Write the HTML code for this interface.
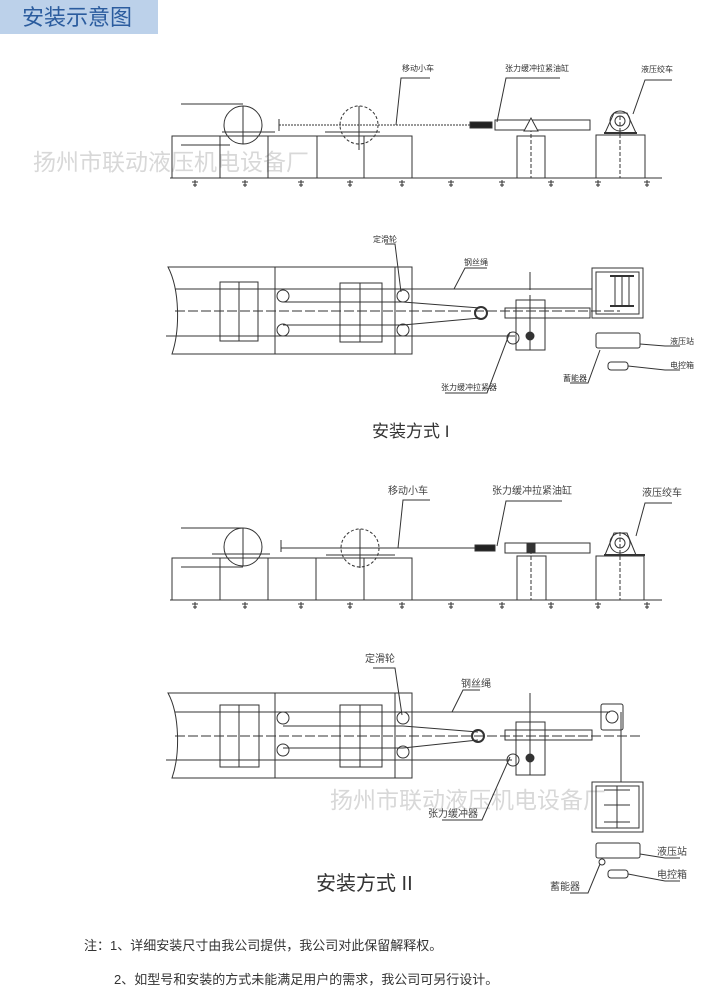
<!DOCTYPE html>
<html><head><meta charset="utf-8"><style>
body{margin:0;background:#fff;width:701px;height:986px;overflow:hidden;position:relative;font-family:"Liberation Sans","Noto Sans CJK SC",sans-serif}
svg{position:absolute;left:0;top:0}
</style></head><body>
<svg width="701" height="986" viewBox="0 0 701 986" xmlns="http://www.w3.org/2000/svg" font-family="Liberation Sans, Noto Sans CJK SC, sans-serif">
<rect x="0" y="0" width="158" height="34" fill="#bcd1ea"/>
<text x="22" y="25" font-size="22" fill="#2b5c9e">安装示意图</text>

<g fill="#d8d8d8" font-size="23">
<text x="33" y="170">扬州市联动液压机电设备厂</text>
<text x="330" y="808">扬州市联动液压机电设备厂</text>
</g>

<g stroke="#333" stroke-width="1" fill="none">
<!-- ===== Diagram 1 side view ===== -->
<line x1="170" y1="178" x2="662" y2="178"/>
<rect x="172" y="136" width="240" height="42"/>
<line x1="220" y1="136" x2="220" y2="178"/><line x1="268" y1="136" x2="268" y2="178"/><line x1="317" y1="136" x2="317" y2="178"/><line x1="364" y1="136" x2="364" y2="178"/>
<line x1="181" y1="104" x2="243" y2="104"/><line x1="181" y1="145" x2="230" y2="145"/>
<circle cx="243" cy="125" r="19"/><line x1="243" y1="106" x2="243" y2="144"/><line x1="222" y1="132" x2="275" y2="132"/>
<circle cx="359" cy="125" r="19" stroke-dasharray="3 2"/><line x1="359" y1="106" x2="359" y2="150"/><line x1="325" y1="132" x2="380" y2="132"/>
<line x1="279" y1="119" x2="279" y2="131"/>
<line x1="279" y1="125" x2="470" y2="125" stroke-dasharray="2 1"/>
<rect x="470" y="122" width="22" height="6" fill="#222"/>
<rect x="495" y="120" width="95" height="10"/>
<rect x="517" y="136" width="28" height="42"/><line x1="531" y1="128" x2="531" y2="178" stroke-dasharray="4 2"/>
<path d="M524 131 L531 118 L538 131 Z" fill="#fff"/>
<rect x="596" y="135" width="49" height="43"/><line x1="620" y1="116" x2="620" y2="178" stroke-dasharray="4 2"/>
<circle cx="620" cy="121" r="10"/><circle cx="620" cy="121" r="5"/>
<path d="M605 133 L614 113 L627 113 L636 133 Z"/><line x1="604" y1="133" x2="637" y2="133" stroke-width="2"/>
<!-- leaders -->
<polyline points="396,125 401,78 430,78"/><polyline points="497,122 506,78 560,78"/><polyline points="633,114 645,80 672,80"/>

<!-- ===== Diagram 2 plan view ===== -->
<path d="M168 267 L412 267 L412 354 L172 354 C180 330 180 290 168 267 Z"/>
<line x1="275" y1="267" x2="275" y2="354"/><line x1="395" y1="267" x2="395" y2="354"/>
<rect x="220" y="282" width="38" height="59"/><line x1="239" y1="282" x2="239" y2="341"/>
<rect x="340" y="283" width="42" height="59"/><line x1="360" y1="283" x2="360" y2="342"/>
<line x1="175" y1="289" x2="592" y2="289"/>
<line x1="175" y1="311" x2="620" y2="311" stroke-dasharray="10 3"/>
<line x1="166" y1="336" x2="515" y2="336"/>
<line x1="283" y1="302" x2="403" y2="302"/><line x1="283" y1="325" x2="403" y2="325"/>
<line x1="403" y1="302" x2="480" y2="308"/><line x1="403" y1="325" x2="480" y2="318"/>
<circle cx="283" cy="296" r="6"/><circle cx="283" cy="330" r="6"/>
<circle cx="403" cy="296" r="6"/><circle cx="403" cy="330" r="6"/>
<circle cx="481" cy="313" r="6" stroke-width="2"/>
<rect x="516" y="300" width="29" height="50"/>
<rect x="505" y="308" width="85" height="10"/>
<line x1="530" y1="295" x2="530" y2="350"/>
<circle cx="513" cy="338" r="6"/>
<circle cx="530" cy="336" r="4" fill="#333"/>
<rect x="592" y="268" width="51" height="50"/><rect x="596" y="272" width="43" height="42"/>
<line x1="610" y1="276" x2="634" y2="276" stroke-width="2"/><line x1="610" y1="306" x2="634" y2="306" stroke-width="2"/>
<line x1="615" y1="276" x2="615" y2="306"/><line x1="622" y1="276" x2="622" y2="306"/><line x1="629" y1="276" x2="629" y2="306"/>
<rect x="596" y="333" width="44" height="15" rx="2"/>
<rect x="608" y="362" width="20" height="8" rx="3"/>
<line x1="530" y1="272" x2="530" y2="290"/>
<!-- leaders -->
<polyline points="385,244 395,244 401,292"/>
<polyline points="454,289 465,268 487,268"/>
<polyline points="510,332 487,393 445,393"/>
<polyline points="600,350 588,383 570,383"/>
<polyline points="640,344 665,346 680,346"/>
<polyline points="628,366 665,370 680,370"/>

<!-- ===== Diagram 3 side view ===== -->
<line x1="170" y1="600" x2="662" y2="600"/>
<rect x="172" y="558" width="240" height="42"/>
<line x1="220" y1="558" x2="220" y2="600"/><line x1="268" y1="558" x2="268" y2="600"/><line x1="316" y1="558" x2="316" y2="600"/><line x1="364" y1="558" x2="364" y2="600"/>
<line x1="181" y1="528" x2="243" y2="528"/><line x1="181" y1="567" x2="243" y2="567"/>
<circle cx="243" cy="547" r="19"/><line x1="243" y1="528" x2="243" y2="566"/><line x1="212" y1="554" x2="270" y2="554"/>
<circle cx="360" cy="548" r="19" stroke-dasharray="3 2"/><line x1="360" y1="529" x2="360" y2="568"/><line x1="326" y1="555" x2="395" y2="555"/>
<line x1="281" y1="540" x2="281" y2="552"/>
<line x1="281" y1="548" x2="475" y2="548"/>
<rect x="475" y="545" width="20" height="6" fill="#222"/>
<rect x="505" y="543" width="85" height="10"/>
<rect x="517" y="556" width="29" height="44"/><line x1="531" y1="550" x2="531" y2="600" stroke-dasharray="4 2"/>
<rect x="527" y="543" width="8" height="10" fill="#333"/>
<rect x="596" y="556" width="48" height="44"/><line x1="620" y1="532" x2="620" y2="600" stroke-dasharray="4 2"/>
<circle cx="620" cy="543" r="10"/><circle cx="620" cy="543" r="5"/>
<path d="M605 555 L614 533 L627 533 L636 555 Z"/><line x1="604" y1="555" x2="645" y2="555" stroke-width="2"/>
<polyline points="398,548 403,500 430,500"/><polyline points="497,546 506,501 562,501"/><polyline points="636,536 645,503 672,503"/>

<!-- ===== Diagram 4 plan view ===== -->
<path d="M168 693 L412 693 L412 778 L172 778 C180 755 180 715 168 693 Z"/>
<line x1="275" y1="693" x2="275" y2="778"/><line x1="395" y1="693" x2="395" y2="778"/>
<rect x="220" y="705" width="39" height="62"/><line x1="239" y1="705" x2="239" y2="767"/>
<rect x="340" y="705" width="42" height="62"/><line x1="360" y1="705" x2="360" y2="767"/>
<line x1="175" y1="712" x2="610" y2="712"/>
<line x1="175" y1="736" x2="640" y2="736" stroke-dasharray="10 3"/>
<line x1="166" y1="760" x2="512" y2="760"/>
<line x1="283" y1="726" x2="403" y2="726"/><line x1="283" y1="748" x2="403" y2="748"/>
<line x1="403" y1="726" x2="478" y2="732"/><line x1="403" y1="748" x2="478" y2="740"/>
<circle cx="283" cy="718" r="6"/><circle cx="283" cy="750" r="6"/>
<circle cx="403" cy="718" r="6"/><circle cx="403" cy="752" r="6"/>
<circle cx="478" cy="736" r="6" stroke-width="2"/>
<rect x="516" y="722" width="29" height="53"/>
<rect x="505" y="730" width="87" height="10"/>
<line x1="530" y1="693" x2="530" y2="775"/>
<circle cx="513" cy="760" r="6"/>
<circle cx="530" cy="758" r="4" fill="#333"/>
<rect x="601" y="704" width="22" height="26" rx="2"/><circle cx="612" cy="717" r="6"/>
<line x1="621" y1="712" x2="621" y2="782"/>
<rect x="592" y="782" width="51" height="50"/><rect x="596" y="786" width="43" height="42"/>
<line x1="617" y1="786" x2="617" y2="828"/><line x1="604" y1="790" x2="630" y2="790"/><line x1="604" y1="805" x2="630" y2="805"/><line x1="604" y1="822" x2="630" y2="822"/>
<rect x="596" y="843" width="44" height="15" rx="2"/>
<circle cx="602" cy="862" r="3"/>
<rect x="608" y="870" width="20" height="8" rx="3"/>
<polyline points="373,668 395,668 402,715"/>
<polyline points="452,712 463,690 480,690"/>
<polyline points="510,757 482,820 442,820"/>
<polyline points="600,864 588,893 570,893"/>
<polyline points="640,854 665,858 680,858"/>
<polyline points="628,874 665,881 680,881"/>
</g>

<!-- ground marks -->
<g stroke="#333" stroke-width="1" fill="none">
<path d="M195 180 v7 M192 182 h6 M193 185 h4 M245 180 v7 M242 182 h6 M243 185 h4 M301 180 v7 M298 182 h6 M299 185 h4 M350 180 v7 M347 182 h6 M348 185 h4 M402 180 v7 M399 182 h6 M400 185 h4 M451 180 v7 M448 182 h6 M449 185 h4 M502 180 v7 M499 182 h6 M500 185 h4 M551 180 v7 M548 182 h6 M549 185 h4 M598 180 v7 M595 182 h6 M596 185 h4 M647 180 v7 M644 182 h6 M645 185 h4"/>
<path d="M195 602 v7 M192 604 h6 M193 607 h4 M245 602 v7 M242 604 h6 M243 607 h4 M301 602 v7 M298 604 h6 M299 607 h4 M350 602 v7 M347 604 h6 M348 607 h4 M402 602 v7 M399 604 h6 M400 607 h4 M451 602 v7 M448 604 h6 M449 607 h4 M502 602 v7 M499 604 h6 M500 607 h4 M551 602 v7 M548 604 h6 M549 607 h4 M598 602 v7 M595 604 h6 M596 607 h4 M647 602 v7 M644 604 h6 M645 607 h4"/>
</g>

<g fill="#333" font-size="8">
<text x="402" y="71">移动小车</text>
<text x="505" y="71">张力缓冲拉紧油缸</text>
<text x="641" y="72">液压绞车</text>
<text x="373" y="242">定滑轮</text>
<text x="464" y="265">钢丝绳</text>
<text x="441" y="390">张力缓冲拉紧器</text>
<text x="563" y="381">蓄能器</text>
<text x="670" y="344">液压站</text>
<text x="670" y="368">电控箱</text>
</g>
<g fill="#444" font-size="10">
<text x="388" y="494">移动小车</text>
<text x="492" y="494">张力缓冲拉紧油缸</text>
<text x="642" y="496">液压绞车</text>
<text x="365" y="662">定滑轮</text>
<text x="461" y="687">钢丝绳</text>
<text x="428" y="817">张力缓冲器</text>
<text x="550" y="890">蓄能器</text>
<text x="657" y="855">液压站</text>
<text x="657" y="878">电控箱</text>
</g>
<text x="372" y="437" font-size="17" fill="#333">安装方式 I</text>
<text x="316" y="890" font-size="20" fill="#333">安装方式 II</text>

<g fill="#333" font-size="13">
<text x="84" y="950">注：1、详细安装尺寸由我公司提供，我公司对此保留解释权。</text>
<text x="114" y="984">2、如型号和安装的方式未能满足用户的需求，我公司可另行设计。</text>
</g>
</svg>
</body></html>
